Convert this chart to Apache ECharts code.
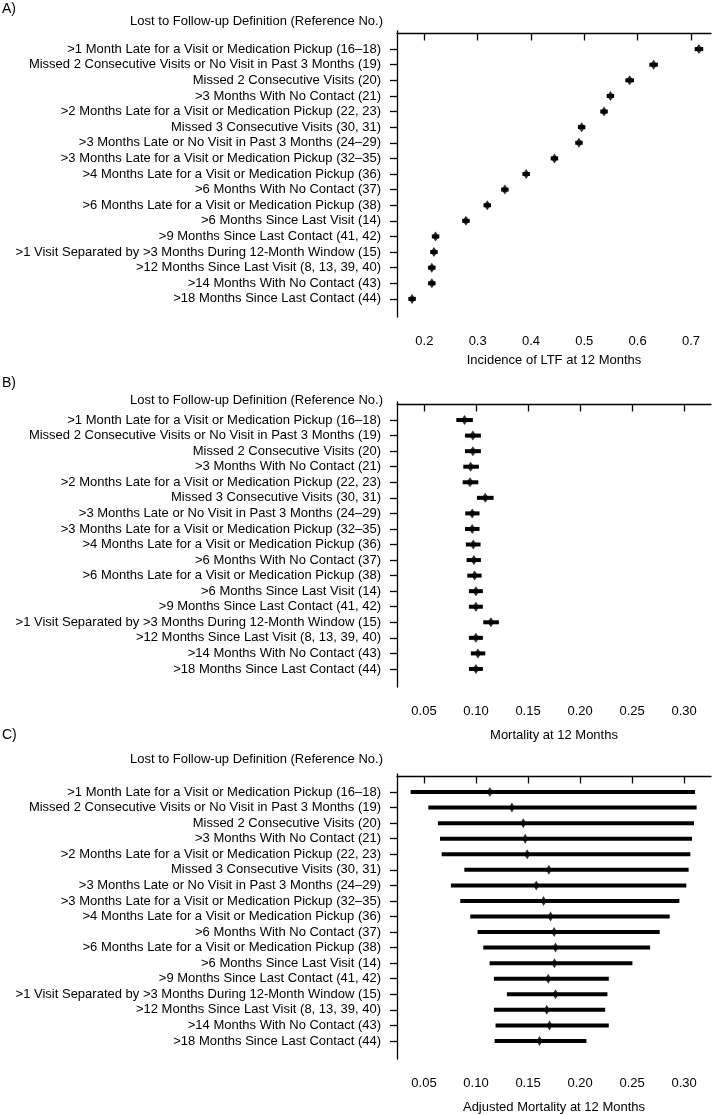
<!DOCTYPE html>
<html>
<head>
<meta charset="utf-8">
<script src="https://cdn.jsdelivr.net/npm/echarts@6/dist/echarts.min.js"></script>
<style>
html,body{margin:0;padding:0;background:#fff;}
#chart{width:714px;height:1115px;}
</style>
</head>
<body>
<div id="chart"></div>
<script>
// ---- data ----
const categories = [
  ">1 Month Late for a Visit or Medication Pickup (16–18)",
  "Missed 2 Consecutive Visits or No Visit in Past 3 Months (19)",
  "Missed 2 Consecutive Visits (20)",
  ">3 Months With No Contact (21)",
  ">2 Months Late for a Visit or Medication Pickup (22, 23)",
  "Missed 3 Consecutive Visits (30, 31)",
  ">3 Months Late or No Visit in Past 3 Months (24–29)",
  ">3 Months Late for a Visit or Medication Pickup (32–35)",
  ">4 Months Late for a Visit or Medication Pickup (36)",
  ">6 Months With No Contact (37)",
  ">6 Months Late for a Visit or Medication Pickup (38)",
  ">6 Months Since Last Visit (14)",
  ">9 Months Since Last Contact (41, 42)",
  ">1 Visit Separated by >3 Months During 12-Month Window (15)",
  ">12 Months Since Last Visit (8, 13, 39, 40)",
  ">14 Months With No Contact (43)",
  ">18 Months Since Last Contact (44)"
];
const rows = [1,2,3,4,5,6,7,8,9,10,11,12,13,14,15,16,17];

// Panel A: incidence of LTF at 12 months
const ltfEst = [0.715,0.630,0.585,0.549,0.537,0.495,0.490,0.444,0.391,0.351,0.318,0.278,0.221,0.218,0.214,0.214,0.177];
const ltfLo  = [0.707,0.622,0.577,0.542,0.530,0.488,0.483,0.437,0.384,0.344,0.311,0.271,0.214,0.211,0.207,0.207,0.170];
const ltfHi  = [0.723,0.638,0.593,0.556,0.544,0.502,0.497,0.451,0.398,0.358,0.325,0.285,0.228,0.225,0.221,0.221,0.184];

// Panel B: mortality at 12 months
const mortEst = [0.089,0.097,0.097,0.0948,0.0942,0.1089,0.0964,0.0964,0.0974,0.098,0.0987,0.0999,0.0999,0.1143,0.0999,0.1018,0.0999];
const mortLo  = [0.0811,0.0894,0.0894,0.0878,0.0872,0.1009,0.0897,0.0894,0.0903,0.091,0.0916,0.0932,0.0932,0.107,0.0932,0.0951,0.0932];
const mortHi  = [0.0970,0.1047,0.1047,0.1028,0.1022,0.1169,0.1034,0.1034,0.1044,0.1047,0.1054,0.1066,0.1066,0.122,0.1066,0.1089,0.1066];

// Panel C: adjusted mortality at 12 months
const adjEst = [0.1133,0.1345,0.1454,0.1473,0.1492,0.170,0.1579,0.1649,0.1716,0.1751,0.1764,0.1754,0.1694,0.1764,0.168,0.1706,0.161];
const adjLo  = [0.0372,0.0542,0.0634,0.0654,0.067,0.0888,0.0759,0.0849,0.0945,0.1015,0.107,0.1131,0.1172,0.1297,0.1172,0.1188,0.1179];
const adjHi  = [0.3105,0.312,0.3095,0.3076,0.306,0.3043,0.3021,0.2954,0.2861,0.2765,0.2673,0.2503,0.2276,0.2263,0.2241,0.2276,0.2061];

// tick labels
const ltfTickValues = [0.2,0.3,0.4,0.5,0.6,0.7];
const ltfTickLabels = ["0.2","0.3","0.4","0.5","0.6","0.7"];
const mortTickValues = [0.05,0.10,0.15,0.20,0.25,0.30];
const mortTickLabels = ["0.05","0.10","0.15","0.20","0.25","0.30"];

const axisTitles = ["Incidence of LTF at 12 Months","Mortality at 12 Months","Adjusted Mortality at 12 Months"];
const panelLetters = ["A)","B)","C)"];
const yHeader = "Lost to Follow-up Definition (Reference No.)";

// ---- layout ----
const FONT = "Liberation Sans, Arial, Helvetica, sans-serif";
const panels = [
  {top:31, height:286, xmin:0.1487, xmax:0.7376, ticks:ltfTickValues, labels:ltfTickLabels, est:ltfEst, lo:ltfLo, hi:ltfHi, lw:4, sym:[7,10], nameGap:37, letterY:9, headerY:21},
  {top:402, height:285, xmin:0.0241, xmax:0.3258, ticks:mortTickValues, labels:mortTickLabels, est:mortEst, lo:mortLo, hi:mortHi, lw:4, sym:[7,10], nameGap:42, letterY:383, headerY:400},
  {top:774, height:285, xmin:0.0241, xmax:0.3258, ticks:mortTickValues, labels:mortTickLabels, est:adjEst, lo:adjLo, hi:adjHi, lw:4, sym:[6,10], nameGap:42, letterY:735, headerY:759}
];

const grid = [], xAxis = [], yAxis = [], series = [], graphic = [];
panels.forEach((p, i) => {
  grid.push({left:397, top:p.top, width:314, height:p.height, containLabel:false});
  xAxis.push({
    type:'value', gridIndex:i, min:p.xmin, max:p.xmax,
    name: axisTitles[i], nameLocation:'middle', nameGap:p.nameGap,
    nameTextStyle:{fontFamily:FONT, fontSize:13, color:'#000'},
    axisLine:{show:true, lineStyle:{color:'#000', width:1.3}},
    axisTick:{show:true, length:7, lineStyle:{color:'#000', width:1.3}, customValues:p.ticks},
    axisLabel:{show:true, margin:18, fontFamily:FONT, fontSize:13, color:'#000', customValues:p.ticks,
      formatter:(v)=>{ const k = p.ticks.findIndex(t=>Math.abs(t-v)<1e-9); return k>=0 ? p.labels[k] : ''; }},
    splitLine:{show:false}
  });
  yAxis.push({
    type:'value', gridIndex:i, min:-0.16, max:18.16, inverse:true,
    axisLine:{show:true, lineStyle:{color:'#000', width:1.3}},
    axisTick:{show:true, length:7, lineStyle:{color:'#000', width:1.3}, customValues:rows},
    axisLabel:{show:true, margin:16, fontFamily:FONT, fontSize:13, color:'#000', customValues:rows,
      formatter:(v)=>{ const k = Math.round(v); return (k>=1 && k<=17) ? categories[k-1] : ''; }},
    splitLine:{show:false}
  });
  const ciData = rows.map((r, j) => [p.lo[j], p.hi[j], r]);
  const lw = p.lw;
  series.push({
    type:'custom', xAxisIndex:i, yAxisIndex:i, silent:true,
    encode:{x:[0,1], y:2},
    renderItem:(params, api) => {
      const a = api.coord([api.value(0), api.value(2)]);
      const b = api.coord([api.value(1), api.value(2)]);
      return {type:'line', shape:{x1:a[0], y1:a[1], x2:b[0], y2:b[1]},
        style:{stroke:'#000', lineWidth:lw, lineCap:'butt'}};
    },
    data: ciData, z:2
  });
  series.push({
    type:'scatter', xAxisIndex:i, yAxisIndex:i, silent:true,
    symbol:'diamond', symbolSize:p.sym,
    itemStyle:{color:'#000'},
    data: rows.map((r, j) => [p.est[j], r]), z:3
  });
  graphic.push({type:'text', x:2, y:p.letterY, style:{text:panelLetters[i], font:'14px '+FONT, fill:'#000', verticalAlign:'middle'}});
  graphic.push({type:'text', x:383, y:p.headerY, style:{text:yHeader, font:'13px '+FONT, fill:'#000', align:'right', verticalAlign:'middle'}});
});

const chart = echarts.init(document.getElementById('chart'), null, {renderer:'canvas'});
chart.setOption({
  backgroundColor:'#fff',
  animation:false,
  grid, xAxis, yAxis, series, graphic
});
</script>
</body>
</html>
